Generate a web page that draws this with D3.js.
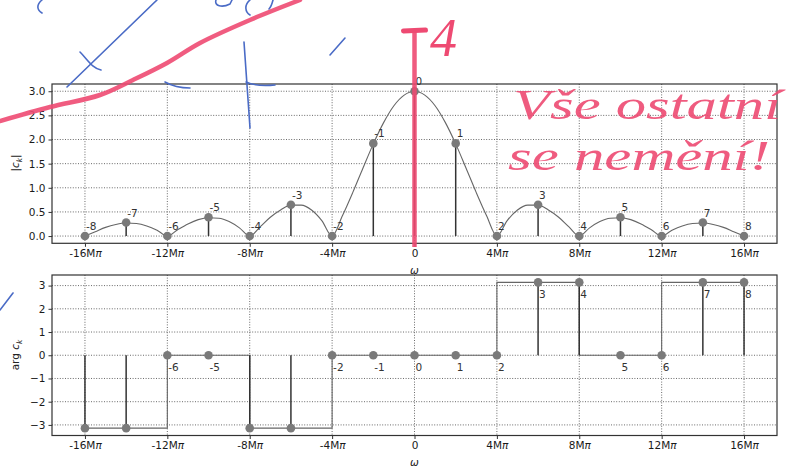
<!DOCTYPE html>
<html><head><meta charset="utf-8">
<script src="https://cdn.jsdelivr.net/npm/d3@7/dist/d3.min.js"></script>
<style>
body{margin:0;background:#fff;}
svg{display:block;font-family:"DejaVu Sans",sans-serif;}
</style></head>
<body><svg id="c" width="795" height="472"></svg>
<script>
// ---- data (omega in units of Mπ) ----
const kLabels = ["-8","-7","-6","-5","-4","-3","-2","-1","0","1","2","3","4","5","6","7","8"];
const omega   = [-16,-14,-12,-10,-8,-6,-4,-2,0,2,4,6,8,10,12,14,16];
const mag     = [0.00,0.28,0.00,0.39,0.00,0.65,0.00,1.92,3.00,1.92,0.00,0.65,0.00,0.39,0.00,0.28,0.00];
const phase   = [-3.14,-3.14,0,0,-3.14,-3.14,0,0,0,0,0,3.14,3.14,0,0,3.14,3.14];

const envOmega = [-16,-15.5,-15,-14.5,-14,-13.5,-13,-12.5,-12,-11.5,-11,-10.5,-10,-9.5,-9,-8.5,-8,
  -7.5,-7,-6.5,-6,-5.5,-5,-4.5,-4,-3.5,-3,-2.5,-2,-1.5,-1,-0.5,0,
  0.5,1,1.5,2,2.5,3,3.5,4,4.5,5,5.5,6,6.5,7,7.5,8,8.5,9,9.5,10,10.5,11,11.5,12,12.5,13,13.5,14,14.5,15,15.5,16];
const envMag = [0.00,0.09,0.18,0.24,0.27,0.26,0.21,0.12,0.00,0.13,0.25,0.34,0.38,0.37,0.30,0.17,0.00,
  0.19,0.39,0.54,0.64,0.64,0.54,0.32,0.00,0.42,0.90,1.41,1.91,2.35,2.70,2.92,3.00,
  2.92,2.70,2.35,1.91,1.41,0.90,0.42,0.00,0.32,0.54,0.64,0.64,0.54,0.39,0.19,0.00,0.17,0.30,0.37,0.38,0.34,0.25,0.13,0.00,0.12,0.21,0.26,0.27,0.24,0.18,0.09,0.00];

const phaseLineW = [-16,-12,-12,-8,-8,-4,-4,4,4,8,8,12,12,16];
const phaseLineV = [-3.14,-3.14,0,0,-3.14,-3.14,0,0,3.14,3.14,0,0,3.14,3.14];

const xTickVals   = [-16,-12,-8,-4,0,4,8,12,16];
const xTickLabels = ["-16Mπ","-12Mπ","-8Mπ","-4Mπ","0","4Mπ","8Mπ","12Mπ","16Mπ"];
const yTopTicks   = [0,0.5,1,1.5,2,2.5,3];
const yTopLabels  = ["0.0","0.5","1.0","1.5","2.0","2.5","3.0"];
const yBotTicks   = [-3,-2,-1,0,1,2,3];
const yBotLabels  = ["−3","−2","−1","0","1","2","3"];

// ---- scales ----
const L=52, R=777;
const x = d3.scaleLinear().domain([-17.6,17.6]).range([L,R]);
const yTop = d3.scaleLinear().domain([-0.15,3.15]).range([243.3,84]);
const yBot = d3.scaleLinear().domain([-3.456,3.456]).range([435.5,275]);

const svg = d3.select("#c");
svg.append("rect").attr("width",795).attr("height",472).attr("fill","#fff");

function panel(y, yTicks, yLabels){
  const g = svg.append("g");
  const [b,t] = y.range();
  g.selectAll(".gx").data(xTickVals).join("line")
    .attr("x1",d=>x(d)).attr("x2",d=>x(d)).attr("y1",t).attr("y2",b)
    .attr("stroke","#444").attr("stroke-width",0.8).attr("stroke-dasharray","1,1.6");
  g.selectAll(".gy").data(yTicks).join("line")
    .attr("x1",L).attr("x2",R).attr("y1",d=>y(d)).attr("y2",d=>y(d))
    .attr("stroke","#444").attr("stroke-width",0.8).attr("stroke-dasharray","1,1.6");
  const xa = g.append("g").attr("transform",`translate(0,${b})`)
    .call(d3.axisBottom(x).tickValues(xTickVals).tickSize(3.5).tickPadding(3));
  xa.select(".domain").remove();
  xa.selectAll("line").attr("stroke","#333");
  xa.selectAll("text").each(function(d,i){
    const s = xTickLabels[i], el = d3.select(this).text("");
    el.attr("font-size",10.5).attr("fill","#1a1a1a").attr("font-family","DejaVu Sans");
    if (s.endsWith("π")) {
      el.append("tspan").text(s.slice(0,-1));
      el.append("tspan").attr("font-style","italic").text("π");
    } else el.text(s);
  });
  const ya = g.append("g").attr("transform",`translate(${L},0)`)
    .call(d3.axisLeft(y).tickValues(yTicks).tickSize(3.5).tickPadding(3).tickFormat((d,i)=>yLabels[i]));
  ya.select(".domain").remove();
  ya.selectAll("line").attr("stroke","#333");
  ya.selectAll("text").attr("font-size",10.5).attr("fill","#1a1a1a").attr("font-family","DejaVu Sans");
  return g;
}

const gTop = panel(yTop, yTopTicks, yTopLabels);
const gBot = panel(yBot, yBotTicks, yBotLabels);

// ---- top: envelope + stems ----
gTop.append("path").datum(envOmega.map((w,i)=>[w,envMag[i]]))
  .attr("d", d3.line().x(d=>x(d[0])).y(d=>yTop(d[1])).curve(d3.curveMonotoneX))
  .attr("fill","none").attr("stroke","#666").attr("stroke-width",1.1);
gTop.selectAll(".stem").data(omega).join("line")
  .attr("x1",d=>x(d)).attr("x2",d=>x(d)).attr("y1",yTop(0)).attr("y2",(d,i)=>yTop(mag[i]))
  .attr("stroke","#333").attr("stroke-width",1.5);
gTop.selectAll(".mk").data(omega).join("circle")
  .attr("cx",d=>x(d)).attr("cy",(d,i)=>yTop(mag[i])).attr("r",4.3).attr("fill","#7a7a7a");
gTop.selectAll(".lb").data(omega).join("text")
  .attr("x",d=>x(d)+1).attr("y",(d,i)=>yTop(mag[i])-6)
  .attr("font-size",10.5).attr("fill","#333").text((d,i)=>kLabels[i]);

// ---- bottom: phase ----
gBot.append("path").datum(phaseLineW.map((w,i)=>[w,phaseLineV[i]]))
  .attr("d", d3.line().x(d=>x(d[0])).y(d=>yBot(d[1])))
  .attr("fill","none").attr("stroke","#666").attr("stroke-width",1.1);
gBot.selectAll(".stem").data(omega).join("line")
  .attr("x1",d=>x(d)).attr("x2",d=>x(d)).attr("y1",yBot(0)).attr("y2",(d,i)=>yBot(phase[i]))
  .attr("stroke","#333").attr("stroke-width",1.5);
gBot.selectAll(".mk").data(omega).join("circle")
  .attr("cx",d=>x(d)).attr("cy",(d,i)=>yBot(phase[i])).attr("r",4.3).attr("fill","#7a7a7a");
// labels sit below their point; those of the -π points fall outside the axes and are not shown
const botIdx = omega.map((d,i)=>i).filter(i=>phase[i] >= 0);
gBot.selectAll(".lb").data(botIdx).join("text")
  .attr("x",i=>x(omega[i])+1).attr("y",i=>yBot(phase[i])+16)
  .attr("font-size",10.5).attr("fill","#333").text(i=>kLabels[i]);

// ---- frames ----
[yTop,yBot].forEach(y=>{
  svg.append("rect").attr("x",L).attr("y",y.range()[1]).attr("width",R-L)
    .attr("height",y.range()[0]-y.range()[1]).attr("fill","none").attr("stroke","#333").attr("stroke-width",1.2);
});

// ---- axis titles ----
function ylab(cy, parts){
  const t = svg.append("text").attr("transform",`translate(19,${cy}) rotate(-90)`)
    .attr("text-anchor","middle").attr("font-size",10.5).attr("fill","#222");
  parts.forEach(p=>{ const s=t.append("tspan").text(p.t);
    if(p.i) s.attr("font-style","italic");
    if(p.sub) s.attr("font-size",7.5).attr("dy",2.5);
    if(p.up) s.attr("dy",-2.5); });
}
ylab(163,[{t:"|"},{t:"c",i:1},{t:"k",i:1,sub:1},{t:"|",up:1}]);
ylab(355,[{t:"arg "},{t:"c",i:1},{t:"k",i:1,sub:1}]);
svg.append("text").attr("x",x(0)).attr("y",274).attr("text-anchor","middle")
  .attr("font-size",10.5).attr("font-style","italic").attr("fill","#222").text("ω");
svg.append("text").attr("x",x(0)).attr("y",466).attr("text-anchor","middle")
  .attr("font-size",10.5).attr("font-style","italic").attr("fill","#222").text("ω");

// ---- handwritten annotations (overlay) ----
const red = "#ee4a72", blue = "#4a6bc6";
const ann = svg.append("g");
ann.append("path")
  .attr("d", d3.line().curve(d3.curveCatmullRom)([[0,121],[50,107],[100,95],[133,80],[167,63],[200,43],[250,20],[300,0]]))
  .attr("fill","none").attr("stroke",red).attr("stroke-width",4.5).attr("stroke-linecap","round").attr("opacity",0.9);
ann.append("line").attr("x1",x(0)).attr("x2",x(0)).attr("y1",31).attr("y2",247)
  .attr("stroke",red).attr("stroke-width",4.5).attr("opacity",0.9);
ann.append("line").attr("x1",x(0)-11).attr("x2",x(0)+11).attr("y1",31).attr("y2",30)
  .attr("stroke",red).attr("stroke-width",5).attr("stroke-linecap","round");
ann.append("text").attr("x",430).attr("y",56).attr("font-size",54).attr("font-style","italic")
  .attr("font-family","Liberation Serif").attr("fill",red).text("4");
ann.append("text").attr("x",513).attr("y",119).attr("font-size",42).attr("font-style","italic")
  .attr("font-family","Liberation Serif").attr("fill",red).attr("opacity",0.9)
  .attr("textLength",268).attr("lengthAdjust","spacingAndGlyphs").text("Vše ostatní");
ann.append("text").attr("x",508).attr("y",170).attr("font-size",42).attr("font-style","italic")
  .attr("font-family","Liberation Serif").attr("fill",red).attr("opacity",0.9)
  .attr("textLength",262).attr("lengthAdjust","spacingAndGlyphs").text("se nemění!");
[
 "M67,87 L157,0",
 "M80,52 C88,60 92,68 101,70",
 "M42,0 C36,5 37,10 42,13",
 "M216,0 C214,6 222,8 230,4 L232,0",
 "M250,0 C244,5 245,12 250,15",
 "M273,0 C272,4 271,7 269,9",
 "M244,42 C246,70 248,100 250,128",
 "M246,82 C255,86 265,86 275,85",
 "M165,82 C172,86 180,88 190,88",
 "M330,55 L345,38",
 "M0,310 L13,293"
].forEach(d=>ann.append("path").attr("d",d).attr("fill","none").attr("stroke",blue)
  .attr("stroke-width",1.6).attr("stroke-linecap","round"));
</script></body></html>
